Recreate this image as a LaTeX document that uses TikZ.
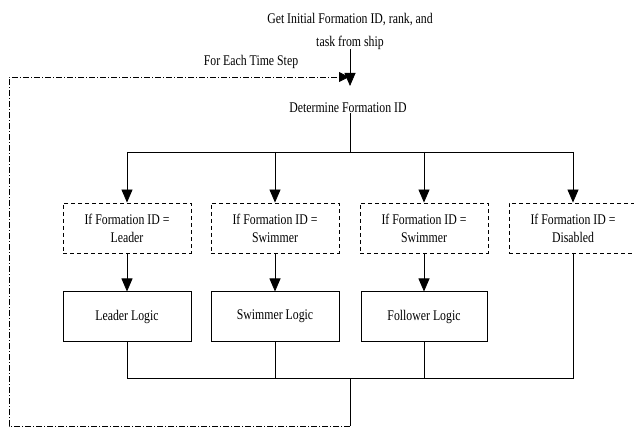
\documentclass[tikz,border=0pt]{standalone}
\usepackage{fontspec}
\setmainfont{Liberation Serif}
\usepackage{graphicx}
\usetikzlibrary{arrows.meta}
\newcommand{\tl}[1]{\scalebox{1}[1.25]{#1}}
\begin{document}
\begin{tikzpicture}[x=1pt,y=-1pt,
  every node/.style={font=\fontsize{11.8}{18}\selectfont, inner sep=0pt},
  cond/.style={draw, dash pattern=on 4pt off 3pt, line width=0.9pt, minimum width=128pt, minimum height=50pt, align=center},
  logic/.style={draw, line width=1pt, minimum width=128pt, minimum height=49pt, align=center},
  conn/.style={line width=0.8pt},
  arr/.style={conn, -{Triangle[length=13pt,width=11pt]}},
  loopline/.style={line width=0.8pt, dash pattern=on 6pt off 2pt on 1pt off 2pt}]
\useasboundingbox (0,0) rectangle (634,427);
\clip (0,0) rectangle (634,427);
% texts
\node[align=center] (init) at (350,31) {\tl{Get Initial Formation ID, rank, and}\\[5pt]\tl{task from ship}};
\node (each) at (251,62) {\tl{For Each Time Step}};
\node (det) at (348,108) {\tl{Determine Formation ID}};
\coordinate (entry) at (350,86);
\coordinate (split) at (350,152);
\coordinate (merge) at (350,378);
\coordinate (back) at (350,426);
\coordinate (ret) at (9,426);
\coordinate (up) at (9,77);
\coordinate (join) at (349,77);
% condition boxes
\node[cond] (c1) at (127,228) {\tl{If Formation ID =}\\\tl{Leader}};
\node[cond] (c2) at (275,228) {\tl{If Formation ID =}\\\tl{Swimmer}};
\node[cond] (c3) at (424,228) {\tl{If Formation ID =}\\\tl{Swimmer}};
\node[cond, minimum width=136pt] (c4) at (577,228) {\tl{If Formation ID =}\hspace*{8pt}\\\tl{Disabled}\hspace*{8pt}};
% logic boxes
\node[logic] (l1) at (127,316.5) {\tl{Leader Logic}};
\node[logic] (l2) at (275,316.5) {\tl{Swimmer Logic}};
\node[logic, minimum width=126pt] (l3) at (424,316.5) {\tl{Follower Logic}};
\coordinate (d4) at (573,0);
% connectors
\draw[arr] (init.south -| entry) -- (entry);
\draw[loopline, -{Triangle[length=10pt,width=10pt]}] (back) -- (ret) -- (up) -- (join);
\draw[conn] (det.south -| split) -- (split);
\draw[conn] (split -| c1) -- (split -| d4);
\foreach \c in {c1,c2,c3} \draw[arr] (split -| \c) -- (\c.north);
\draw[arr] (split -| d4) -- (c4.north -| d4);
\draw[arr] (c1) -- (l1);
\draw[arr] (c2) -- (l2);
\draw[arr] (c3) -- (l3);
\draw[conn] (l1.south) -- (l1.south |- merge) -- (d4 |- merge) -- (c4.south -| d4);
\draw[conn] (l2.south) -- (l2.south |- merge);
\draw[conn] (l3.south) -- (l3.south |- merge);
\draw[conn] (merge) -- (back);
\end{tikzpicture}
\end{document}
